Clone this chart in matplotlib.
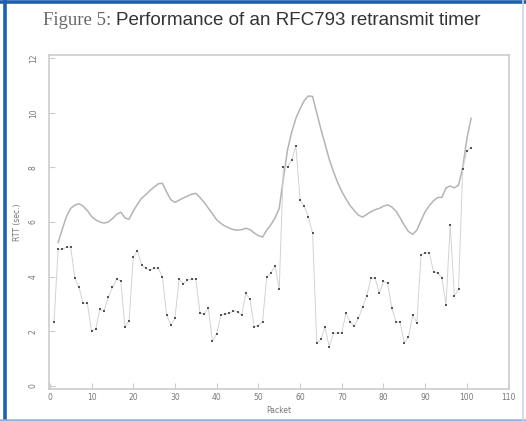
import matplotlib
matplotlib.use("Agg")
import matplotlib.pyplot as plt
from matplotlib.lines import Line2D

# Round-trip time samples, one per packet
packets = list(range(1, 102))
rtt = [2.35, 5.0, 5.0, 5.08, 5.08, 3.94, 3.6, 3.02, 3.02, 2.0,
       2.07, 2.8, 2.75, 3.24, 3.6, 3.9, 3.85, 2.16, 2.38, 4.71,
       4.95, 4.43, 4.3, 4.23, 4.3, 4.3, 3.99, 2.59, 2.24, 2.47,
       3.91, 3.74, 3.87, 3.9, 3.9, 2.68, 2.62, 2.84, 1.64, 1.9,
       2.59, 2.63, 2.65, 2.74, 2.72, 2.59, 3.39, 3.16, 2.16, 2.2,
       2.35, 3.98, 4.13, 4.38, 3.55, 8.03, 8.03, 8.28, 8.77, 6.8,
       6.57, 6.2, 5.59, 1.56, 1.71, 2.14, 1.43, 1.92, 1.92, 1.95,
       2.65, 2.35, 2.19, 2.47, 2.89, 3.3, 3.94, 3.94, 3.39, 3.82,
       3.76, 2.84, 2.35, 2.32, 1.56, 1.8, 2.59, 2.31, 4.79, 4.87,
       4.87, 4.18, 4.13, 3.96, 2.96, 5.9, 3.3, 3.53, 7.94, 8.62,
       8.73]

# Retransmit timeout computed by the RFC793 estimator (from packet 2)
rto_packets = list(range(2, 102))
rto = [5.25, 5.75, 6.2, 6.5, 6.62, 6.67, 6.58, 6.42, 6.2,
       6.08, 6.0, 5.96, 6.0, 6.12, 6.28, 6.36, 6.15, 6.1, 6.4,
       6.65, 6.87, 7.0, 7.15, 7.28, 7.4, 7.42, 7.1, 6.82, 6.72,
       6.8, 6.88, 6.95, 7.02, 7.05, 6.9, 6.72, 6.51, 6.3, 6.08,
       5.95, 5.85, 5.78, 5.72, 5.7, 5.72, 5.77, 5.72, 5.6, 5.5,
       5.45, 5.7, 5.9, 6.15, 6.5, 7.6, 8.65, 9.3, 9.8, 10.15,
       10.45, 10.62, 10.6, 10.0, 9.4, 8.85, 8.3, 7.85, 7.45, 7.12,
       6.85, 6.6, 6.42, 6.25, 6.18, 6.28, 6.38, 6.45, 6.5, 6.58,
       6.63, 6.55, 6.4, 6.15, 5.88, 5.65, 5.55, 5.7, 6.05, 6.38,
       6.6, 6.78, 6.9, 6.9, 7.25, 7.32, 7.25, 7.35, 8.0, 9.05,
       9.8]

xticks = [0, 10, 20, 30, 40, 50, 60, 70, 80, 90, 100, 110]
yticks = [0, 2, 4, 6, 8, 10, 12]

W, H = 526, 421
fig = plt.figure(figsize=(W / 100, H / 100), dpi=100)
fig.patch.set_facecolor("white")

# axes box in pixels: left 49, right 509, top 55, bottom 389
ax = fig.add_axes([49 / W, (H - 389) / H, (509 - 49) / W, (389 - 55) / H])
ax.set_xlim(-0.2, 110.1)
ax.set_ylim(-0.12, 12.12)

ax.plot(rto_packets, rto, color="#b4b4b4", lw=1.1, solid_joinstyle="round")
ax.plot(packets, rtt, color="#d2d2d2", lw=0.7, marker="s", ms=1.6,
        mfc="#555555", mec="#555555", mew=0)

for s in ax.spines.values():
    s.set_color("#cccccc")
    s.set_linewidth(1.2)

ax.set_xticks(xticks)
ax.set_yticks(yticks)
ax.tick_params(direction="in", length=4, width=0.8, color="#cccccc",
               labelsize=5.5, labelcolor="#777777")
ax.tick_params(axis="x", pad=3)
ax.tick_params(axis="y", pad=8)
for lbl in ax.get_yticklabels():
    lbl.set_rotation(90)
    lbl.set_va("center")

ax.set_xlabel("Packet", fontsize=5.5, color="#777777", labelpad=3)
ax.set_ylabel("RTT (sec.)", fontsize=5.5, color="#777777", labelpad=5)

# title in two faces: serif caption number, sans caption text
fig.canvas.draw()
renderer = fig.canvas.get_renderer()
t1 = fig.text(43 / W, 1 - 25 / H, "Figure 5:", family="Liberation Serif",
              fontsize=13.5, color="#666666", ha="left", va="baseline")
bb = t1.get_window_extent(renderer)
t2 = fig.text((bb.x1 + 5) / W, 1 - 25 / H,
              "Performance of an RFC793 retransmit timer",
              family="Liberation Sans", fontsize=13.5, color="#333333",
              ha="left", va="baseline")

# page frame
fig.add_artist(Line2D([5 / W, 5 / W], [0, 1], transform=fig.transFigure,
                      color="#1f5fb0", lw=2.6))
fig.add_artist(Line2D([0, 1], [1 - 1.5 / H, 1 - 1.5 / H],
                      transform=fig.transFigure, color="#1f5fb0", lw=2.6))
fig.add_artist(Line2D([0, 1], [1.5 / H, 1.5 / H], transform=fig.transFigure,
                      color="#8fb0dc", lw=1.8))
fig.add_artist(Line2D([523 / W, 523 / W], [0, 1], transform=fig.transFigure,
                      color="#c9d5e6", lw=1.2))

fig.savefig("out.png", dpi=100)
